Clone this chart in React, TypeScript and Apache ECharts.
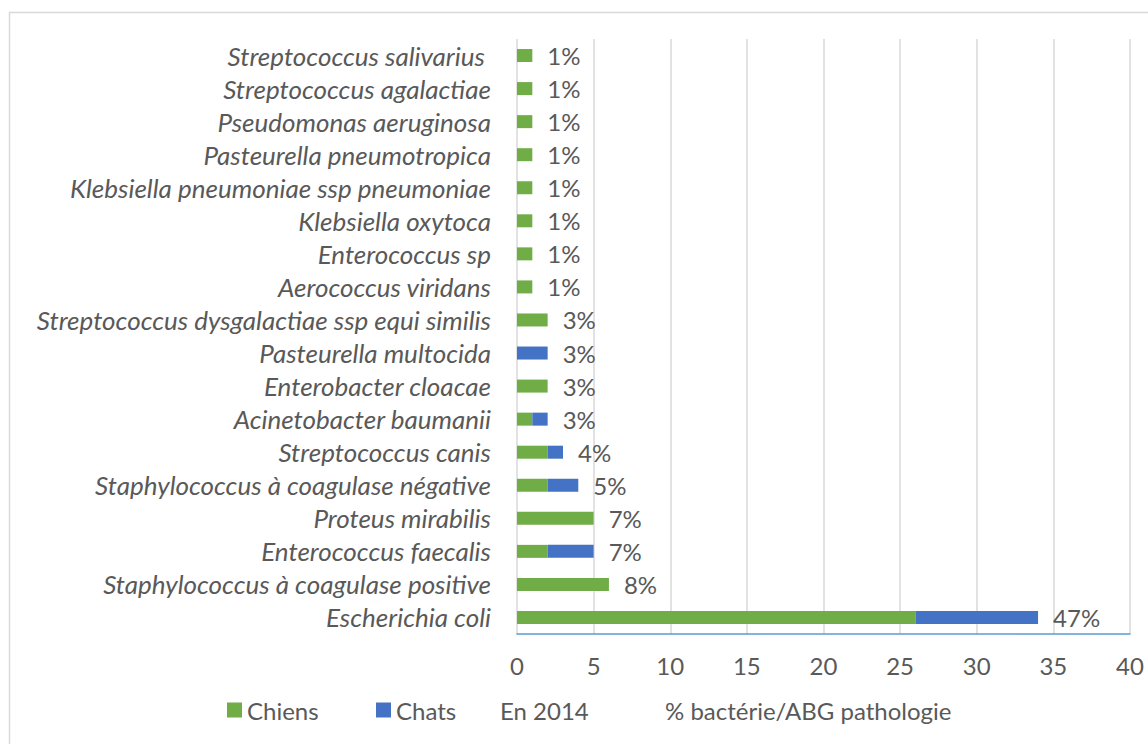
import React, { useEffect, useRef } from "react";
import * as echarts from "echarts";

const categories = [
  "Escherichia coli",
  "Staphylococcus à coagulase positive",
  "Enterococcus faecalis",
  "Proteus mirabilis",
  "Staphylococcus à coagulase négative",
  "Streptococcus canis",
  "Acinetobacter baumanii",
  "Enterobacter cloacae",
  "Pasteurella multocida",
  "Streptococcus dysgalactiae ssp equi similis",
  "Aerococcus viridans",
  "Enterococcus sp",
  "Klebsiella oxytoca",
  "Klebsiella pneumoniae ssp pneumoniae",
  "Pasteurella pneumotropica",
  "Pseudomonas aeruginosa",
  "Streptococcus agalactiae",
  "Streptococcus salivarius ",
];
const chiens = [26, 6, 2, 5, 2, 2, 1, 2, 0, 2, 1, 1, 1, 1, 1, 1, 1, 1];
const chats = [8, 0, 3, 0, 2, 1, 1, 0, 2, 0, 0, 0, 0, 0, 0, 0, 0, 0];
const en2014 = [0, 0, 0, 0, 0, 0, 0, 0, 0, 0, 0, 0, 0, 0, 0, 0, 0, 0];
const pctLabels = ["47%", "8%", "7%", "7%", "5%", "4%", "3%", "3%", "3%", "3%", "1%", "1%", "1%", "1%", "1%", "1%", "1%", "1%"];
const pctBase = [0, 0, 0, 0, 0, 0, 0, 0, 0, 0, 0, 0, 0, 0, 0, 0, 0, 0];
const xTicks = [0, 40, 5];

const FONT = "Lato";
const TXT = "#595959";

export default function App() {
  const ref = useRef<HTMLDivElement>(null);
  useEffect(() => {
    const chart = echarts.init(ref.current!, undefined, { renderer: "svg" });
    const legendText = { color: TXT, fontSize: 24, fontFamily: FONT };
    const lg = (left: number, name: string, icon: string) => ({
      left,
      top: 693,
      itemWidth: 15,
      itemHeight: 15,
      itemGap: 0,
      textStyle: legendText,
      data: [{ name, icon }],
    });
    chart.setOption({
      animation: false,
      backgroundColor: "#ffffff",
      textStyle: { fontFamily: FONT },
      graphic: [
        {
          type: "rect",
          shape: { x: 9.5, y: 12.5, width: 1160, height: 760 },
          style: { fill: "none", stroke: "#d9d9d9", lineWidth: 1.5 },
          silent: true,
        },
      ],
      grid: { left: 517, right: 18, top: 39, bottom: 110 },
      legend: [
        lg(222, "Chiens", "rect"),
        lg(371, "Chats", "rect"),
        lg(475, "En 2014", "none"),
        lg(640, "% bactérie/ABG pathologie", "none"),
      ],
      xAxis: {
        type: "value",
        min: xTicks[0],
        max: xTicks[1],
        interval: xTicks[2],
        axisLine: { show: true, onZero: false, lineStyle: { color: "#5B9BD5", width: 1.5 } },
        axisTick: { show: false },
        splitLine: { show: true, lineStyle: { color: "#d9d9d9", width: 1.5 } },
        axisLabel: { color: TXT, fontSize: 24, fontFamily: FONT, margin: 19 },
      },
      yAxis: {
        type: "category",
        data: categories,
        axisLine: { show: false },
        axisTick: { show: false },
        axisLabel: {
          color: TXT,
          fontSize: 26,
          fontStyle: "italic",
          fontFamily: FONT,
          margin: 26,
          interval: 0,
          hideOverlap: false,
        },
      },
      series: [
        { name: "Chiens", type: "bar", stack: "s", barWidth: 13, data: chiens, itemStyle: { color: "#70AD47" } },
        { name: "Chats", type: "bar", stack: "s", barWidth: 13, data: chats, itemStyle: { color: "#4472C4" } },
        { name: "En 2014", type: "bar", stack: "s", barWidth: 13, data: en2014, itemStyle: { color: "transparent" } },
        {
          name: "% bactérie/ABG pathologie",
          type: "bar",
          stack: "s",
          barWidth: 13,
          data: pctBase,
          itemStyle: { color: "transparent" },
          label: {
            show: true,
            position: "right",
            distance: 15,
            color: TXT,
            fontSize: 24,
            fontFamily: FONT,
            formatter: (p: any) => pctLabels[p.dataIndex],
          },
        },
      ],
    });
    return () => chart.dispose();
  }, []);
  return <div ref={ref} style={{ position: "absolute", left: 0, top: 0, width: 1148, height: 744 }} />;
}
